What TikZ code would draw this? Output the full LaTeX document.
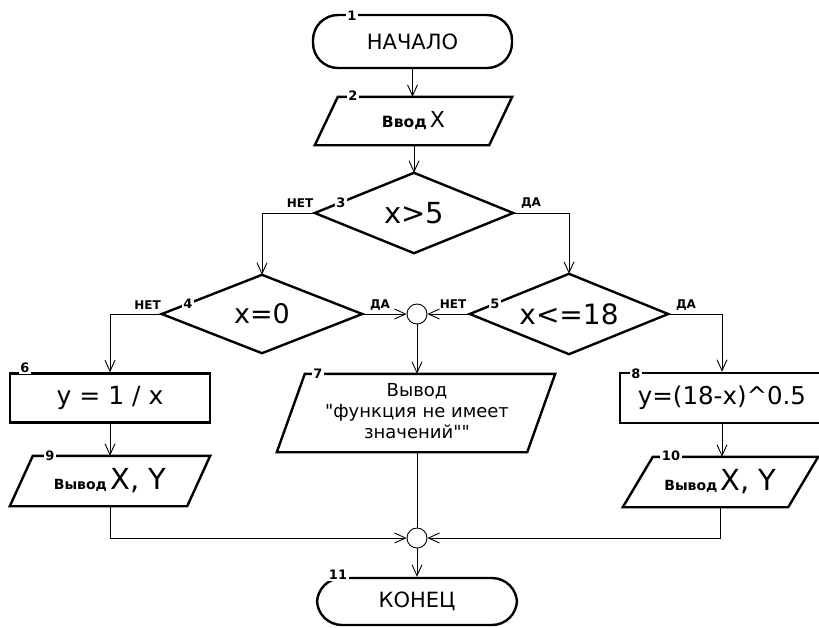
\documentclass[tikz,border=0pt]{standalone}
\usepackage{fontspec}
\setmainfont{DejaVu Sans}
\usetikzlibrary{arrows.meta}
\newcommand\fsz[1]{\fontsize{#1}{#1}\selectfont}
\newcommand\drawpara[2]{\draw[shp] (#1.south west) -- ([xshift=-#2]#1.south east) -- (#1.north east) -- ([xshift=#2]#1.north west) -- cycle;}
\newcommand\drawdiam[1]{\draw[shp] (#1.west) -- (#1.north) -- (#1.east) -- (#1.south) -- cycle;}
\tikzset{
  shp/.style={line width=2.4pt, line join=miter},
  conn/.style={line width=0.9pt},
  arr/.style={conn, -{Straight Barb[length=11pt,width=10pt,line width=0.9pt]}},
  term/.style={draw, shp, rounded corners=25pt, inner sep=0pt},
  boxnode/.style={draw, shp, inner sep=0pt},
  hold/.style={inner sep=0pt},
  num/.style={fill=white, font=\bfseries\fsz{13}, inner xsep=1.5pt, inner ysep=1pt},
  lbl/.style={font=\bfseries\fsz{12}, inner sep=0pt},
  joint/.style={circle, draw, conn, minimum size=20pt, inner sep=0pt}
}
\begin{document}
\begin{tikzpicture}[x=1pt,y=-1pt]
\useasboundingbox (0,0) rectangle (819,627);
\fill[white] (0,0) rectangle (819,627);

% terminals
\node[term, minimum width=199pt, minimum height=53pt] (t1) at (412.5,41.5) {\fsz{21}НАЧАЛО};
\node[term, minimum width=200pt, minimum height=47pt] (t11) at (417,601.5) {\fsz{21}КОНЕЦ};

% input
\node[hold, minimum width=197pt, minimum height=48pt] (p2) at (413.5,121) {{\bfseries\fsz{15.5}Ввод} {\fsz{22}X}};
\drawpara{p2}{23pt}

% decisions
\node[hold, minimum width=198pt, minimum height=80pt] (d3) at (414,213) {\fsz{29}x>5};
\drawdiam{d3}
\node[hold, minimum width=200pt, minimum height=78pt] (d4) at (262,314) {\fsz{27}x=0};
\drawdiam{d4}
\node[hold, minimum width=198pt, minimum height=80pt] (d5) at (569,314) {\fsz{28}x<=18};
\drawdiam{d5}

% joints
\node[joint] (c1) at (417,314) {};
\node[joint] (c2) at (417,538) {};

% processes
\node[boxnode, minimum width=200pt, minimum height=49pt] (b6) at (110,398) {\fsz{25}y = 1 / x};
\node[boxnode, minimum width=204pt, minimum height=50pt] (b8) at (722,398) {\fsz{24.5}y=(18-x)\textasciicircum0.5};

% outputs
\node[hold, minimum width=278pt, minimum height=78pt] (p7) at (416,413) {};
\drawpara{p7}{28pt}
\node[align=center, font=\fontsize{18}{21}\selectfont, inner sep=0pt] (p7t) at (417,411) {Вывод\\\textquotedbl функция не имеет\\значений\textquotedbl\textquotedbl};
\node[hold, minimum width=200pt, minimum height=50pt] (p9) at (110,481) {{\bfseries\fsz{14}Вывод} {\fsz{29}X, Y}};
\drawpara{p9}{23pt}
\node[hold, minimum width=195pt, minimum height=50pt] (p10) at (720.5,482) {{\bfseries\fsz{14}Вывод} {\fsz{29}X, Y}};
\drawpara{p10}{30pt}

% connectors
\draw[arr] (t1.south) -- (t1.south |- p2.north);
\draw[arr] (p2.south -| d3.north) -- (d3.north);
\draw[arr] (d3.west) -| (d4.north);
\draw[arr] (d3.east) -| (d5.north);
\draw[arr] (d4.west) -| (b6.north);
\draw[arr] (d5.east) -| (b8.north);
\draw[arr] (d4.east) -- (c1.west);
\draw[arr] (d5.west) -- (c1.east);
\draw[arr] (c1.south) -- (c1.south |- p7.north);
\draw[conn] (c1 |- p7.south) -- (c2.north);
\draw[arr] (b6.south) -- (p9.north);
\draw[arr] (b8.south) -- (b8.south |- p10.north);
\draw[arr] (p9.south) |- (c2.west);
\draw[arr] (p10.south) |- (c2.east);
\draw[arr] (c2.south) -- (c2.south |- t11.north);

% branch labels
\node[lbl] (l3n) at (300,203) {НЕТ};
\node[lbl] (l3y) at (531,203) {ДА};
\node[lbl] (l4n) at (147.5,305) {НЕТ};
\node[lbl] (l4y) at (380,305) {ДА};
\node[lbl] (l5n) at (453,304) {НЕТ};
\node[lbl] (l5y) at (686,305) {ДА};

% block numbers
\node[num] (n1) at (352,15.5) {1};
\node[num] (n2) at (353,96) {2};
\node[num] (n3) at (341,203) {3};
\node[num] (n4) at (188,304) {4};
\node[num] (n5) at (495,304) {5};
\node[num] (n6) at (25,368) {6};
\node[num] (n7) at (318,374) {7};
\node[num] (n8) at (636,374) {8};
\node[num] (n9) at (50,456) {9};
\node[num] (n10) at (671,456) {10};
\node[num] (n11) at (338,575) {11};
\end{tikzpicture}
\end{document}
